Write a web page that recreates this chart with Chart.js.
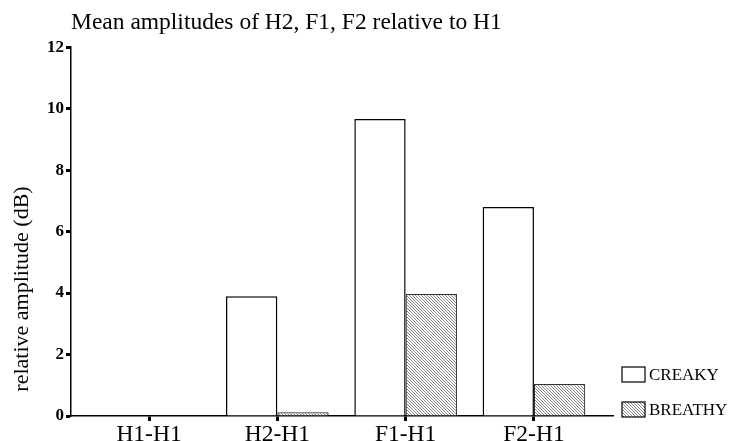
<!DOCTYPE html>
<html>
<head>
<meta charset="utf-8">
<script src="https://cdn.jsdelivr.net/npm/chart.js@4"></script>
<style>
  html, body { margin: 0; padding: 0; background: #fff; }
  #wrap { width: 739px; height: 441px; }
</style>
</head>
<body>
<div id="wrap"><canvas id="chart"></canvas></div>
<script>
/* data */
var categories = ['H1-H1', 'H2-H1', 'F1-H1', 'F2-H1'];
var creaky = [0, 3.9, 9.66, 6.8];
var breathy = [0, 0.12, 3.97, 1.04];
var seriesNames = ['CREAKY', 'BREATHY'];
var yTicks = [0, 2, 4, 6, 8, 10, 12];

var FONT = "'Liberation Serif', serif";

// hatch fill for the breathy bars (\\\ lines)
function makeHatch() {
    var c = document.createElement('canvas');
    c.width = 3; c.height = 3;
    var g = c.getContext('2d');
    g.fillStyle = '#fff';
    g.fillRect(0, 0, 3, 3);
    g.fillStyle = '#858585';
    for (var i = 0; i < 3; i++) g.fillRect(i, i, 1, 1);
    return g.createPattern(c, 'repeat');
}
var hatch = makeHatch();

function toPoints(arr) {
    return arr.map(function (v, i) { return {x: i, y: v}; });
}

// y axis title + legend drawn by hand, the placement in the picture is odd
var extras = {
    id: 'extras',
    afterDraw: function (chart) {
        var ctx = chart.ctx;
        var area = chart.chartArea;
        ctx.save();
        ctx.fillStyle = '#000';
        ctx.font = "22px " + FONT;
        ctx.textAlign = 'center';
        ctx.textBaseline = 'middle';
        ctx.translate(22, 289);
        ctx.rotate(-Math.PI / 2);
        ctx.fillText('relative amplitude (dB)', 0, 0);
        ctx.restore();

        ctx.save();
        chart.data.datasets.forEach(function (ds, i) {
            var bx = area.right + 9;
            var by = 367 + i * 35;
            ctx.fillStyle = ds.backgroundColor;
            ctx.fillRect(bx, by, 23, 15);
            ctx.strokeStyle = '#000';
            ctx.lineWidth = 1.2;
            ctx.strokeRect(bx, by, 23, 15);
            ctx.fillStyle = '#000';
            ctx.font = "17px " + FONT;
            ctx.textAlign = 'left';
            ctx.textBaseline = 'middle';
            ctx.fillText(ds.label, bx + 27, by + 8.5);
        });
        ctx.restore();
    }
};

var chart = new Chart('chart', {
    type: 'bar',
    data: {
        datasets: [{
            label: seriesNames[0],
            data: toPoints(creaky),
            backgroundColor: '#fff',
            borderColor: '#000',
            borderWidth: 1.5
        }, {
            label: seriesNames[1],
            data: toPoints(breathy),
            backgroundColor: hatch,
            borderColor: '#333',
            borderWidth: 1.2
        }]
    },
    options: {
        responsive: true,
        maintainAspectRatio: false,
        animation: false,
        layout: { padding: { left: 0, right: 126, top: 0, bottom: 0 } },
        datasets: { bar: { categoryPercentage: 0.8, barPercentage: 1.0 } },
        plugins: {
            legend: { display: false },
            tooltip: { enabled: false },
            title: {
                display: true,
                text: 'Mean amplitudes of H2, F1, F2 relative to H1',
                align: 'start',
                fullSize: false,
                color: '#000',
                font: { family: FONT, size: 23.5, weight: 'normal' },
                padding: { top: 9, bottom: 10 }
            }
        },
        scales: {
            x: {
                type: 'linear',
                offset: false,
                min: -0.608,
                max: 3.616,
                afterBuildTicks: function (s) {
                    s.ticks = categories.map(function (c, i) { return {value: i}; });
                },
                afterFit: function (s) { s.height = 25; },
                border: { display: true, color: '#000', width: 1.5 },
                grid: { offset: false, drawOnChartArea: false, tickLength: 5, tickWidth: 3, color: '#000' },
                ticks: {
                    color: '#000',
                    padding: 0,
                    maxRotation: 0,
                    autoSkip: false,
                    font: { family: FONT, size: 23.5 },
                    callback: function (v) { return categories[v]; }
                }
            },
            y: {
                min: 0,
                max: 12,
                afterBuildTicks: function (s) {
                    s.ticks = yTicks.map(function (v) { return {value: v}; });
                },
                afterFit: function (s) { s.width = 71; },
                border: { display: true, color: '#000', width: 1.5 },
                grid: { drawOnChartArea: false, tickLength: 5, tickWidth: 3, color: '#000' },
                ticks: {
                    color: '#000',
                    padding: 2,
                    font: { family: FONT, size: 17, weight: '600' }
                }
            }
        }
    },
    plugins: [extras]
});
</script>
</body>
</html>
